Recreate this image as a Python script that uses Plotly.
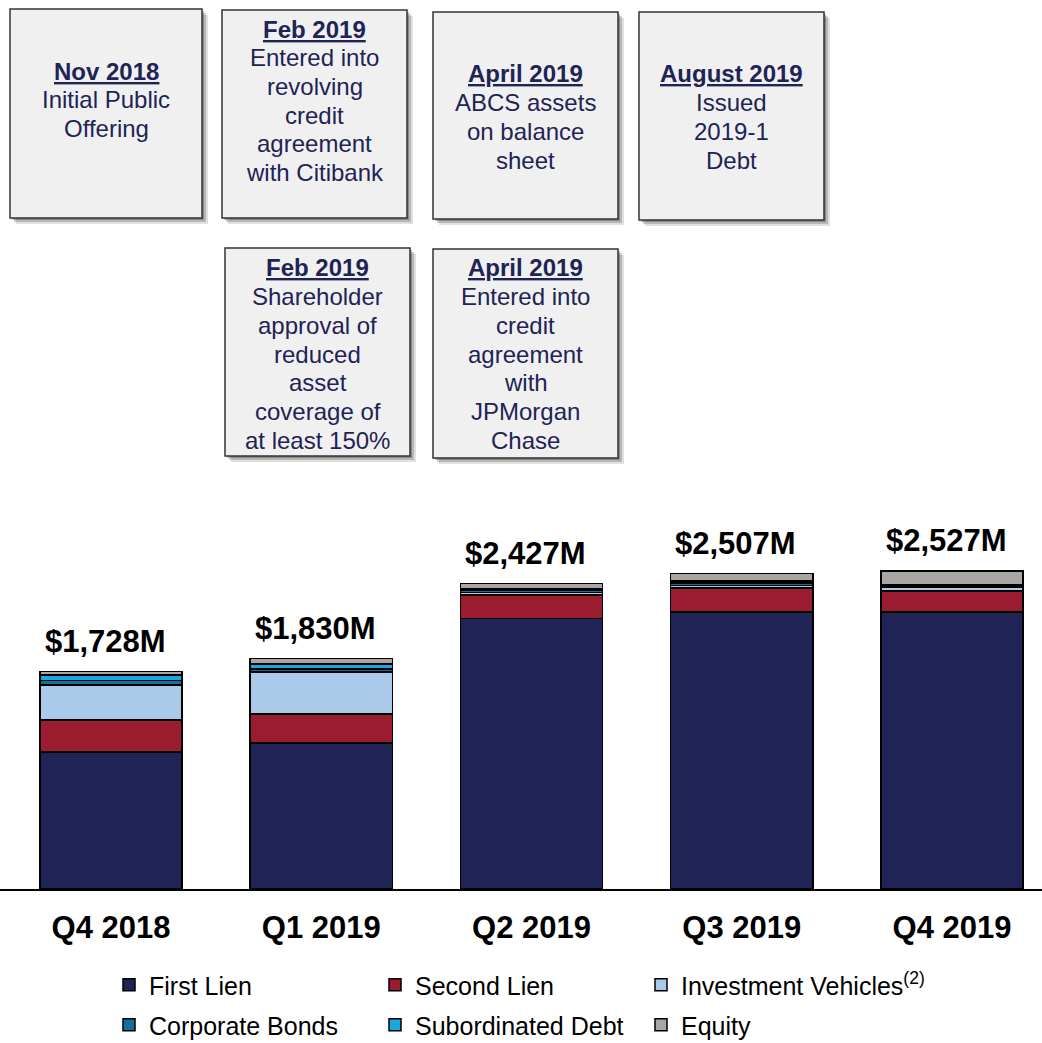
import plotly.graph_objects as go

# --- data -------------------------------------------------------------
quarters = ["Q4 2018", "Q1 2019", "Q2 2019", "Q3 2019", "Q4 2019"]
totals = [1728, 1830, 2427, 2507, 2527]

first_lien = [1090, 1161, 2150, 2203, 2200]
second_lien = [255, 230, 185, 190, 170]
investment_vehicles = [275, 334, 22, 20, 25]
corporate_bonds = [35, 25, 20, 20, 12]
subordinated_debt = [45, 40, 10, 14, 10]
equity = [28, 40, 40, 60, 110]

series = [
    ("First Lien", first_lien, "#1F2355"),
    ("Second Lien", second_lien, "#9B1B30"),
    ("Investment Vehicles<sup>(2)</sup>", investment_vehicles, "#ABCAE9"),
    ("Corporate Bonds", corporate_bonds, "#12709C"),
    ("Subordinated Debt", subordinated_debt, "#1BA7E0"),
    ("Equity", equity, "#A9A5A1"),
]

# milestone boxes: (x0, y0, x1, y1) in page pixels, title, body lines, first line y
milestones = [
    ((10, 9, 202, 218), "Nov 2018", ["Initial Public", "Offering"], 71),
    ((222, 10, 407, 218), "Feb 2019", ["Entered into", "revolving", "credit", "agreement", "with Citibank"], 29),
    ((433, 12, 618, 219), "April 2019", ["ABCS assets", "on balance", "sheet"], 74),
    ((639, 12, 824, 220), "August 2019", ["Issued", "2019-1", "Debt"], 74),
    ((225, 248, 410, 456), "Feb 2019", ["Shareholder", "approval of", "reduced", "asset", "coverage of", "at least 150%"], 268),
    ((433, 249, 618, 458), "April 2019", ["Entered into", "credit", "agreement", "with", "JPMorgan", "Chase"], 268),
]

W, H = 1042, 1043
BASE = 889          # pixel row of the x axis
FONT = "Arial, Liberation Sans, sans-serif"
NAVY = "#1F2355"
LEG_COLS = [148, 414, 680]   # legend text start (px)
LEG_ROWS = [985, 1025]       # legend row centres (px)


def px(x):
    return x / W


def py(y):
    return (BASE - y) / BASE


fig = go.Figure()
legends = {}
for i, (name, vals, color) in enumerate(series):
    key = "legend" if i == 0 else f"legend{i + 1}"
    fig.add_trace(go.Bar(
        x=quarters, y=vals, name=name, legend=key,
        marker=dict(color=color, line=dict(color="black", width=1.5)),
    ))
    legends[key] = dict(
        x=px(LEG_COLS[i % 3] - 39), y=py(LEG_ROWS[i // 3]),
        xanchor="left", yanchor="middle", orientation="h",
        font=dict(family=FONT, size=25, color="black"), bgcolor="rgba(0,0,0,0)",
    )

for q, t in zip(quarters, totals):
    fig.add_annotation(x=q, y=t, text=f"<b>${t:,}M</b>", showarrow=False,
                       yanchor="bottom", yshift=11, xshift=-6,
                       font=dict(family=FONT, size=31, color="black"))

for (x0, y0, x1, y1), title, lines, ly in milestones:
    for off, a in ((6, 0.12), (4, 0.18), (2, 0.25)):
        fig.add_shape(type="rect", xref="paper", yref="paper",
                      x0=px(x0 + off), x1=px(x1 + off), y0=py(y0 + off), y1=py(y1 + off),
                      line=dict(width=0), fillcolor=f"rgba(0,0,0,{a})")
    fig.add_shape(type="rect", xref="paper", yref="paper",
                  x0=px(x0), x1=px(x1), y0=py(y0), y1=py(y1),
                  line=dict(color="#333333", width=1.5), fillcolor="#F0F0F0")
    cx = px((x0 + x1) / 2)
    for i, txt in enumerate([f"<b><u>{title}</u></b>"] + lines):
        fig.add_annotation(xref="paper", yref="paper", x=cx, y=py(ly + i * 28.7),
                           text=txt, showarrow=False, xanchor="center", yanchor="middle",
                           font=dict(family=FONT, size=24, color=NAVY))

fig.update_layout(
    width=W, height=H,
    margin=dict(l=0, r=0, t=0, b=H - BASE, autoexpand=False),
    paper_bgcolor="white", plot_bgcolor="white",
    barmode="stack", bargap=0.324,
    showlegend=True,
    xaxis=dict(range=[-0.528, 4.428], showline=True, linecolor="black", linewidth=2,
               ticks="", ticklabelstandoff=10, showgrid=False, automargin=False,
               tickfont=dict(family=FONT, size=31, color="black", weight="bold")),
    yaxis=dict(range=[0, BASE / 0.12584], visible=False),
    **legends,
)

fig.write_html("out.html", config={"displayModeBar": False},
               post_script="document.body.style.margin='0px';")
